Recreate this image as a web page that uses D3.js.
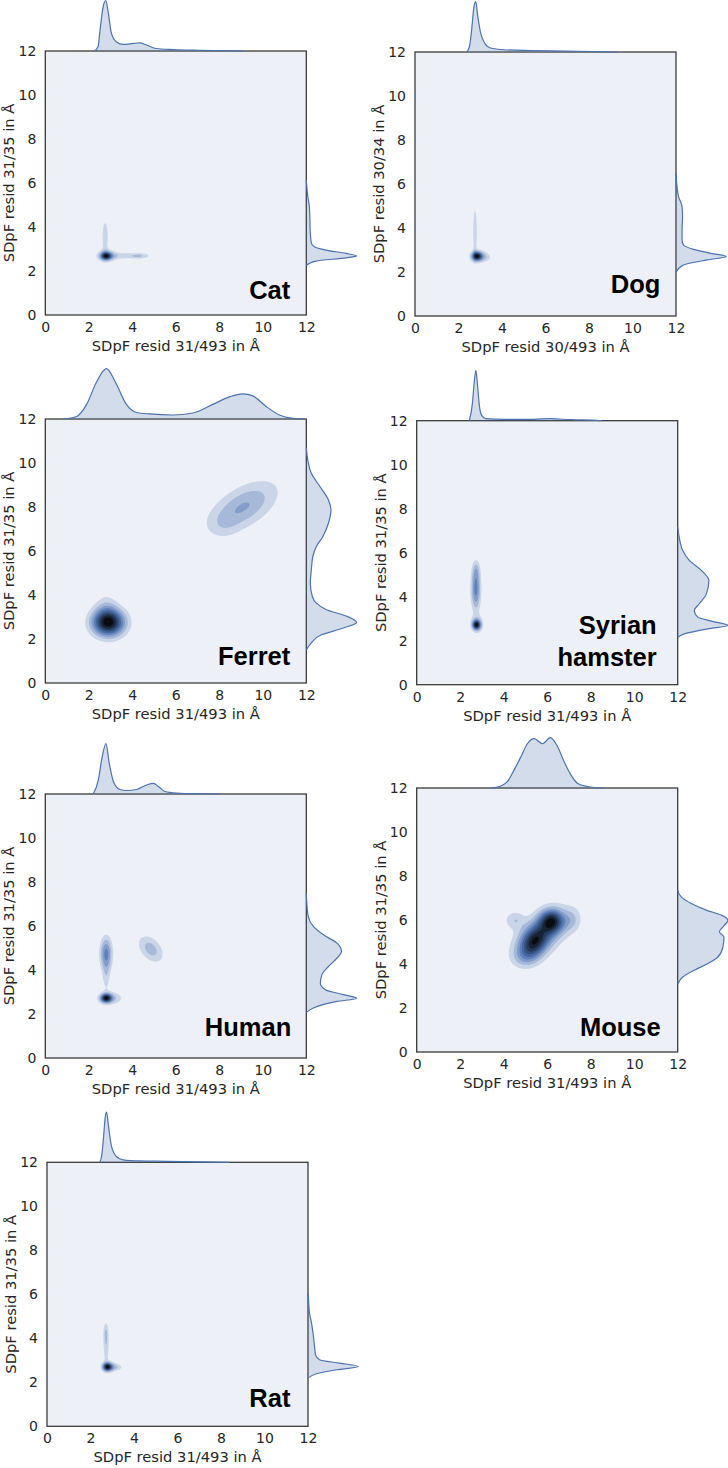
<!DOCTYPE html>
<html><head><meta charset="utf-8">
<script src="https://cdn.jsdelivr.net/npm/d3@7"></script>
<style>body{margin:0;background:#fff}svg{display:block}</style>
</head><body>
<svg id="chart" width="728" height="1468"></svg>
<script>
// ---------------- DATA ----------------
const species = ["Cat", "Dog", "Ferret", "Syrian hamster", "Human", "Mouse", "Rat"];
const xAxisLabels = ["SDpF resid 31/493 in Å", "SDpF resid 30/493 in Å", "SDpF resid 31/493 in Å",
  "SDpF resid 31/493 in Å", "SDpF resid 31/493 in Å", "SDpF resid 31/493 in Å", "SDpF resid 31/493 in Å"];
const yAxisLabels = ["SDpF resid 31/35 in Å", "SDpF resid 30/34 in Å", "SDpF resid 31/35 in Å",
  "SDpF resid 31/35 in Å", "SDpF resid 31/35 in Å", "SDpF resid 31/35 in Å", "SDpF resid 31/35 in Å"];
const tickValues = [0, 2, 4, 6, 8, 10, 12];

// 2D density blobs: [centre x, centre y, spread x, spread y, tilt, relative height]
const catBlobs = [[2.8, 2.68, 0.17, 0.12, 0, 1.0], [2.85, 2.7, 0.35, 0.2, 0, 0.25],
  [3.85, 2.69, 0.7, 0.1, 0, 0.24], [4.35, 2.68, 0.25, 0.09, 0, 0.13], [2.75, 3.55, 0.11, 0.6, 0, 0.24]];
const dogBlobs = [[2.85, 2.72, 0.15, 0.13, 0, 1.0], [2.95, 2.7, 0.3, 0.2, 0, 0.28],
  [3.2, 2.68, 0.22, 0.13, 0, 0.12], [2.76, 3.85, 0.07, 0.8, 0, 0.26]];
const ferretBlobs = [[2.9, 2.75, 0.5, 0.42, 0, 1.0], [2.8, 3.5, 0.35, 0.45, 0, 0.12],
  [9.1, 8.0, 1.05, 0.78, 0.55, 0.32], [8.2, 7.2, 0.45, 0.4, 0, 0.06]];
const syrianBlobs = [[2.75, 2.72, 0.12, 0.14, 0, 1.0], [2.78, 2.75, 0.2, 0.28, 0, 0.28],
  [2.72, 4.35, 0.15, 0.65, 0, 0.58], [2.73, 5.2, 0.12, 0.3, 0, 0.18]];
const humanBlobs = [[2.8, 2.72, 0.17, 0.13, 0, 1.0], [3.0, 2.72, 0.38, 0.2, 0, 0.28],
  [2.8, 4.75, 0.19, 0.5, 0, 0.55], [2.8, 3.7, 0.13, 0.5, 0, 0.18], [4.85, 4.95, 0.4, 0.42, -0.4, 0.32]];
const mouseBlobs = [[5.4, 5.0, 0.45, 0.5, 0.3, 0.8], [6.2, 5.95, 0.38, 0.36, 0, 0.85],
  [5.8, 5.4, 0.85, 0.75, 0.5, 0.4], [4.5, 6.0, 0.32, 0.28, 0, 0.22], [7.15, 6.0, 0.28, 0.38, 0, 0.18],
  [5.0, 4.3, 0.42, 0.32, 0, 0.18]];
const ratBlobs = [[2.78, 2.7, 0.14, 0.12, 0, 1.0], [2.9, 2.7, 0.26, 0.17, 0, 0.25],
  [3.2, 2.68, 0.22, 0.1, 0, 0.15], [2.72, 3.7, 0.1, 0.6, 0, 0.24], [2.7, 4.3, 0.08, 0.3, 0, 0.15]];

// marginal densities: [value, density relative to peak]
const catTop = [[2.25,0],[2.43,0.09],[2.5,0.35],[2.66,0.88],[2.78,1],[2.9,0.75],[3.04,0.35],[3.27,0.18],[3.58,0.13],[4.04,0.15],[4.34,0.16],[4.65,0.12],[5.1,0.05],[5.87,0.03],[7.1,0.015],[9.1,0]];
const catRight = [[2.25,0],[2.45,0.19],[2.6,0.79],[2.68,1],[2.8,0.79],[2.95,0.39],[3.1,0.16],[3.28,0.1],[3.73,0.08],[4.49,0.07],[4.94,0.06],[5.4,0.03],[5.85,0.01],[6.15,0]];
const dogTop = [[2.37,0],[2.5,0.1],[2.59,0.375],[2.71,0.9],[2.79,1],[2.89,0.7],[3.02,0.375],[3.2,0.18],[3.47,0.08],[4.09,0.045],[5.3,0.03],[6.84,0.02],[9.3,0]];
const dogRight = [[2.0,0],[2.32,0.15],[2.55,0.62],[2.7,1],[2.85,0.69],[3.03,0.35],[3.23,0.15],[3.46,0.12],[3.91,0.12],[4.52,0.13],[4.98,0.12],[5.43,0.05],[5.89,0.02],[6.5,0]];
const ferretTop = [[0.83,0],[1.44,0.05],[1.9,0.29],[2.35,0.73],[2.81,1],[3.27,0.69],[3.73,0.29],[4.19,0.13],[4.8,0.1],[5.87,0.08],[6.79,0.12],[7.7,0.29],[8.47,0.44],[9.08,0.5],[9.54,0.46],[10.15,0.25],[10.76,0.08],[11.37,0.014],[11.9,0]];
const ferretRight = [[1.5,0],[1.82,0.1],[2.19,0.3],[2.5,0.74],[2.75,1],[3.03,0.81],[3.33,0.4],[3.63,0.2],[3.93,0.12],[4.54,0.08],[5.15,0.1],[5.75,0.13],[6.2,0.2],[6.66,0.33],[7.26,0.44],[7.87,0.49],[8.32,0.44],[8.93,0.27],[9.53,0.1],[10.13,0.03],[10.7,0]];
const syrianTop = [[2.42,0],[2.56,0.34],[2.64,0.74],[2.72,1],[2.79,0.74],[2.87,0.34],[2.98,0.11],[3.18,0.04],[4.02,0.026],[4.94,0.026],[6.17,0.04],[7.09,0.02],[8.3,0.007],[8.5,0]];
const syrianRight = [[2.16,0],[2.31,0.13],[2.54,0.6],[2.69,1],[2.89,0.67],[3.07,0.4],[3.37,0.33],[3.68,0.43],[4.13,0.57],[4.74,0.62],[5.2,0.47],[5.65,0.23],[6.1,0.1],[6.71,0.03],[7.17,0]];
const humanTop = [[2.2,0],[2.44,0.28],[2.59,0.68],[2.79,1],[2.94,0.61],[3.13,0.25],[3.43,0.09],[3.74,0.07],[4.2,0.09],[4.66,0.18],[4.97,0.21],[5.2,0.15],[5.5,0.05],[6.04,0.02],[7.1,0.005],[8.0,0]];
const humanRight = [[2.07,0],[2.27,0.14],[2.57,0.61],[2.72,1],[2.88,0.74],[3.1,0.38],[3.4,0.28],[3.78,0.31],[4.16,0.44],[4.54,0.61],[4.84,0.7],[5.22,0.61],[5.6,0.34],[5.98,0.14],[6.43,0.04],[7.04,0.01],[7.5,0]];
const mouseTop = [[3.4,0],[3.87,0.04],[4.17,0.125],[4.48,0.36],[4.79,0.62],[5.09,0.88],[5.4,0.98],[5.79,0.88],[6.14,1],[6.48,0.82],[6.78,0.52],[7.09,0.26],[7.4,0.09],[7.86,0.03],[8.32,0.005],[8.6,0]];
const mouseRight = [[3.1,0],[3.41,0.1],[3.72,0.33],[4.02,0.6],[4.32,0.8],[4.78,0.9],[5.23,0.92],[5.46,0.83],[5.69,0.9],[5.99,1],[6.22,0.87],[6.45,0.57],[6.75,0.27],[7.05,0.07],[7.36,0]];
const ratTop = [[2.43,0],[2.52,0.15],[2.59,0.45],[2.68,0.91],[2.74,1],[2.83,0.71],[2.97,0.31],[3.2,0.11],[3.5,0.05],[4.27,0.027],[5.5,0.02],[7.0,0.007],[8.4,0]];
const ratRight = [[2.19,0],[2.39,0.17],[2.57,0.57],[2.72,1],[2.87,0.63],[3.03,0.23],[3.25,0.15],[3.63,0.13],[4.24,0.1],[4.69,0.07],[5.15,0.03],[5.75,0.01],[6.05,0]];

// ---------------- LAYOUT / STYLE ----------------
const blobsList = [catBlobs, dogBlobs, ferretBlobs, syrianBlobs, humanBlobs, mouseBlobs, ratBlobs];
const topList = [catTop, dogTop, ferretTop, syrianTop, humanTop, mouseTop, ratTop];
const rightList = [catRight, dogRight, ferretRight, syrianRight, humanRight, mouseRight, ratRight];
const boxPos = [[45.3, 51], [415, 52], [45.3, 419], [416.7, 420.7], [45.3, 794], [416.7, 788], [47, 1162.3]];
const labelOff = [[16, 16], [15.6, 22.7], [16, 18], [21, 19], [15, 22], [17, 15.7], [17.6, 19.4]];
const W = 261, H = 264;
const baseColor = "#4C72B0";
const textColor = "#262626";
const N = 360;

const svg = d3.select("#chart");

// seaborn-style dark colormap: same hue, lightness 1 -> 0
const cmapStops = d3.range(12).map(k => { const c = d3.hsl(baseColor); c.l = 1 - k / 11; return d3.rgb(c); });
function cmap(t) {
  const s = Math.max(0, Math.min(1, t)) * 11;
  const i = Math.min(10, Math.floor(s));
  return d3.interpolateRgb(cmapStops[i], cmapStops[i + 1])(s - i);
}

species.forEach((name, p) => {
  const [L, T] = boxPos[p];
  const x = d3.scaleLinear().domain([0, 12]).range([L, L + W]);
  const y = d3.scaleLinear().domain([0, 12]).range([T + H, T]);
  const g = svg.append("g");

  // density grid
  const blobs = blobsList[p];
  const vals = new Float64Array(N * N);
  let vmax = 0;
  for (let j = 0; j < N; j++) {
    const yv = 12 - (j + 0.5) * 12 / N;
    for (let i = 0; i < N; i++) {
      const xv = (i + 0.5) * 12 / N;
      let v = 0;
      for (const [cx, cy, sx, sy, r, a] of blobs) {
        const dx = (xv - cx) / sx, dy = (yv - cy) / sy;
        const q = (dx * dx - 2 * r * dx * dy + dy * dy) / (1 - r * r);
        if (q < 60) v += a * Math.exp(-0.5 * q);
      }
      vals[j * N + i] = v;
      if (v > vmax) vmax = v;
    }
  }
  for (let k = 0; k < vals.length; k++) vals[k] /= vmax;
  const levels = d3.range(0, 11).map(k => k / 10);
  const nl = levels.length - 1;

  const clipId = "clip" + p;
  g.append("clipPath").attr("id", clipId).append("rect")
    .attr("x", L).attr("y", T).attr("width", W).attr("height", H);
  const cg = g.append("g").attr("clip-path", `url(#${clipId})`);
  cg.append("rect").attr("x", L).attr("y", T).attr("width", W).attr("height", H)
    .attr("fill", cmap(0.5 / nl));
  const path = d3.geoPath(d3.geoTransform({
    point(px, py) { this.stream.point(x(px * 12 / N), y(12 - py * 12 / N)); }
  }));
  const contours = d3.contours().size([N, N]).thresholds(levels.slice(1, nl))(vals);
  contours.forEach((c, k) => {
    cg.append("path").attr("d", path(c)).attr("fill", cmap((k + 1.5) / nl));
  });

  // box
  g.append("rect").attr("x", L).attr("y", T).attr("width", W).attr("height", H)
    .attr("fill", "none").attr("stroke", "#333").attr("stroke-width", 1.25);

  // axes
  const ax = g.append("g").attr("transform", `translate(0,${T + H})`)
    .call(d3.axisBottom(x).tickValues(tickValues).tickSize(0).tickPadding(7).tickFormat(d3.format("d")));
  const ay = g.append("g").attr("transform", `translate(${L},0)`)
    .call(d3.axisLeft(y).tickValues(tickValues).tickSize(0).tickPadding(9).tickFormat(d3.format("d")));
  [ax, ay].forEach(a => {
    a.select(".domain").remove();
    a.selectAll("text").attr("font-family", "DejaVu Sans").attr("font-size", 14).attr("fill", textColor);
  });

  g.append("text").attr("x", L + W / 2).attr("y", T + H + 36).attr("text-anchor", "middle")
    .attr("font-family", "DejaVu Sans").attr("font-size", 14.7).attr("fill", textColor)
    .text(xAxisLabels[p]);
  g.append("text").attr("transform", `translate(${L - 31},${T + H / 2}) rotate(-90)`)
    .attr("text-anchor", "middle").attr("font-family", "DejaVu Sans").attr("font-size", 14.7)
    .attr("fill", textColor).text(yAxisLabels[p]);

  // marginals
  const peak = (H / 5) / 1.05;
  const topArea = d3.area().curve(d3.curveMonotoneX)
    .x(d => x(d[0])).y0(T).y1(d => T - d[1] * peak);
  const topLine = d3.line().curve(d3.curveMonotoneX).x(d => x(d[0])).y(d => T - d[1] * peak);
  g.append("path").attr("d", topArea(topList[p])).attr("fill", baseColor).attr("fill-opacity", 0.25);
  g.append("path").attr("d", topLine(topList[p])).attr("fill", "none").attr("stroke", baseColor).attr("stroke-width", 1.2);
  const R = L + W;
  const rightArea = d3.area().curve(d3.curveMonotoneY)
    .y(d => y(d[0])).x0(R).x1(d => R + d[1] * peak);
  const rightLine = d3.line().curve(d3.curveMonotoneY).y(d => y(d[0])).x(d => R + d[1] * peak);
  g.append("path").attr("d", rightArea(rightList[p])).attr("fill", baseColor).attr("fill-opacity", 0.25);
  g.append("path").attr("d", rightLine(rightList[p])).attr("fill", "none").attr("stroke", baseColor).attr("stroke-width", 1.2);

  // species label
  const [ldx, ldy] = labelOff[p];
  const words = name === "Syrian hamster" ? ["Syrian", "hamster"] : [name];
  const t = g.append("text").attr("text-anchor", "end")
    .attr("font-family", "Liberation Sans, Arial, sans-serif").attr("font-weight", "bold")
    .attr("font-size", 25.5).attr("fill", "#000");
  words.forEach((w, k) => {
    t.append("tspan").attr("x", R - ldx).attr("y", T + H - ldy - (words.length - 1 - k) * 32).text(w);
  });
});
</script>
</body></html>
